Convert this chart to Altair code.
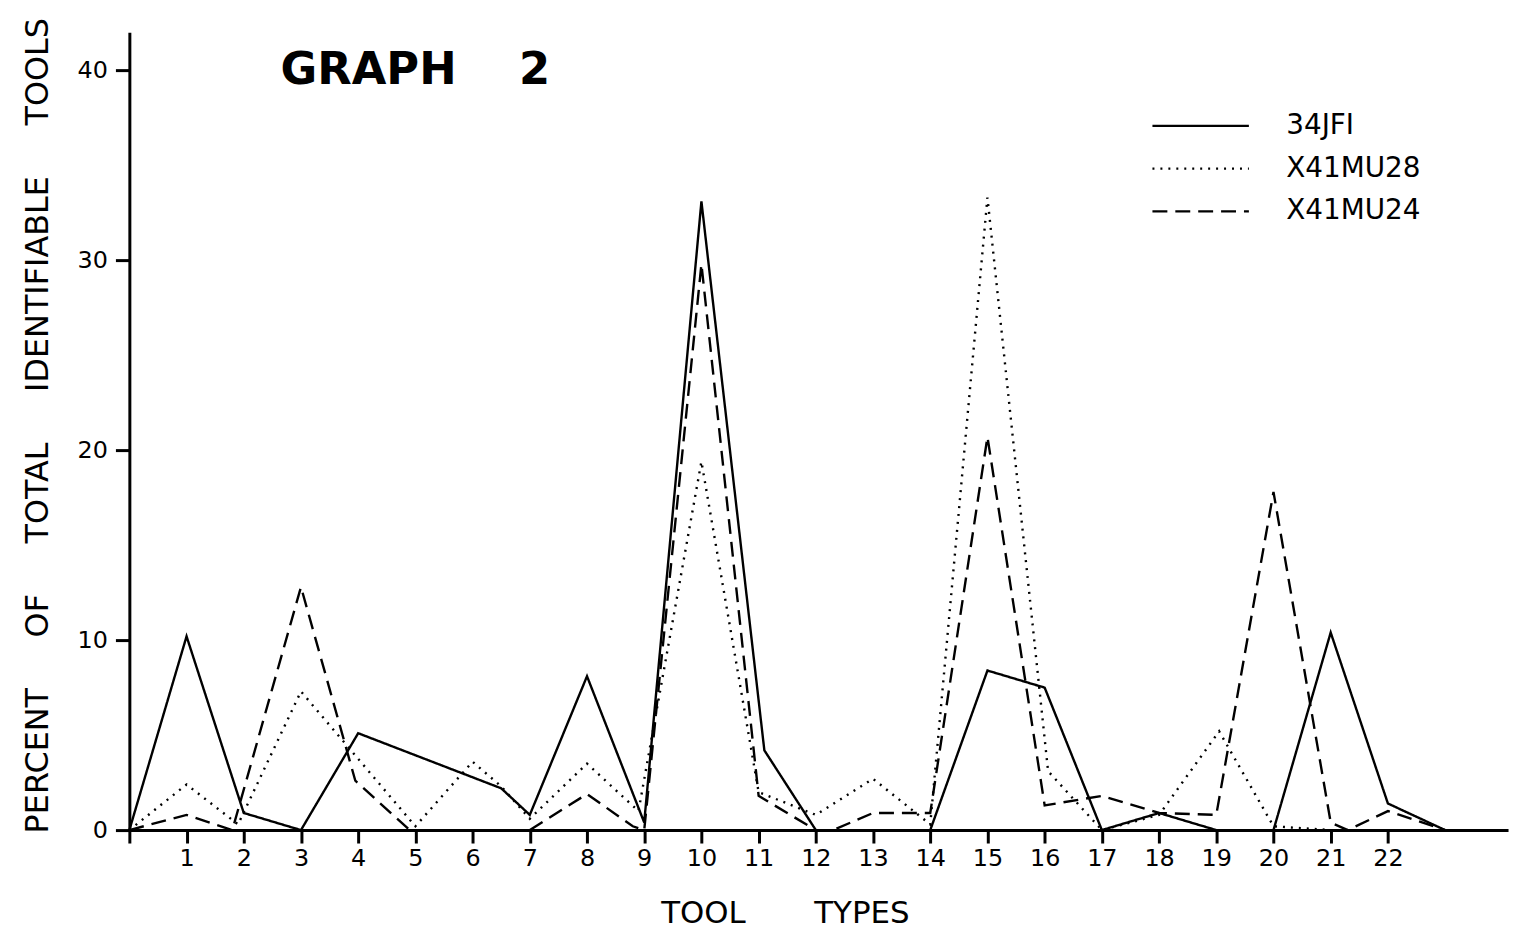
import altair as alt
import pandas as pd

# ---- data ----
series_names = ["34JFI", "X41MU28", "X41MU24"]

jfi_x = [0, 1, 2, 3, 4, 6.5, 7, 8, 9, 10, 11.1, 12, 13, 14, 15, 16, 17, 18, 19, 20, 21, 22, 23]
jfi_y = [0, 10.2, 0.9, 0, 5.1, 2.2, 0.8, 8.1, 0.4, 33.1, 4.2, 0, 0, 0, 8.4, 7.5, 0, 0.9, 0, 0, 10.4, 1.4, 0]

mu28_x = [0, 1, 1.9, 3, 5, 6, 6.5, 7, 8, 8.9, 10, 11, 12, 13, 14, 15, 16.06, 17, 18, 19.05, 20, 21, 22, 23]
mu28_y = [0, 2.4, 0.3, 7.3, 0.2, 3.6, 2.3, 0.6, 3.5, 1.0, 19.4, 2.0, 0.8, 2.7, 0.3, 33.3, 3.1, 0, 0.8, 5.2, 0.2, 0, 0, 0]

mu24_x = [0, 1, 1.8, 3, 3.95, 4.9, 7, 8, 8.8, 9, 10, 11, 12, 12.3, 13, 14, 15, 16, 17, 18, 19, 20, 21, 21.3, 22, 23]
mu24_y = [0, 0.8, 0, 12.8, 2.6, 0, 0, 1.9, 0.2, 0, 29.8, 1.8, 0, 0, 0.9, 0.9, 20.7, 1.3, 1.8, 0.9, 0.8, 17.8, 0.4, 0, 1.0, 0]

x_ticks = list(range(0, 23))
y_ticks = [0, 10, 20, 30, 40]

rows = []
for name, xs, ys in [(series_names[0], jfi_x, jfi_y),
                     (series_names[1], mu28_x, mu28_y),
                     (series_names[2], mu24_x, mu24_y)]:
    for i, (xv, yv) in enumerate(zip(xs, ys)):
        rows.append({"series": name, "tool": xv, "pct": yv, "order": i})
df = pd.DataFrame(rows)

FONT = "DejaVu Sans"
NB = "\u00a0"

chart = alt.Chart(df).mark_line(color="black", strokeWidth=2.4, strokeCap="butt").encode(
    x=alt.X("tool:Q",
            scale=alt.Scale(domain=[0, 24.1], nice=False, zero=False),
            axis=alt.Axis(values=x_ticks,
                          labelExpr="datum.value == 0 ? '' : datum.label",
                          grid=False, tickSize=13, tickWidth=3, domainWidth=3,
                          domainColor="black", tickColor="black",
                          labelFont=FONT, labelFontSize=24, labelColor="black",
                          labelPadding=4, labelFlush=False,
                          title="TOOL" + NB * 7 + "TYPES",
                          titleFont=FONT, titleFontSize=31, titleFontWeight="normal",
                          titleColor="black", titleX=659, titleY=93,
                          titleBaseline="alphabetic")),
    y=alt.Y("pct:Q",
            scale=alt.Scale(domain=[0, 42], nice=False),
            axis=alt.Axis(values=y_ticks, grid=False, tickSize=14, tickWidth=3,
                          domainWidth=3, domainColor="black", tickColor="black",
                          labelFont=FONT, labelFontSize=24, labelColor="black",
                          labelPadding=8, labelFlush=False,
                          title="PERCENT" + NB * 5 + "OF" + NB * 5 + "TOTAL" + NB * 5
                                + "IDENTIFIABLE" + NB * 5 + "TOOLS",
                          titleFont=FONT, titleFontSize=32, titleFontWeight="normal",
                          titleColor="black", titleX=-92, titleY=395,
                          titleBaseline="middle", titleAngle=-90)),
    strokeDash=alt.StrokeDash("series:N",
                              scale=alt.Scale(domain=series_names,
                                              range=[[1, 0], [2, 6], [15, 8]]),
                              legend=alt.Legend(title=None, orient="none",
                                                legendX=1063, legendY=80,
                                                symbolType="M-5,0H5", symbolSize=376,
                                                symbolStrokeWidth=2.4,
                                                symbolStrokeColor="black",
                                                labelFont=FONT, labelFontSize=28,
                                                labelColor="black", labelOffset=72,
                                                rowPadding=15)),
    order="order:Q",
).properties(
    width=1386,
    height=802,
    background="white",
    title=alt.TitleParams("GRAPH" + NB * 4 + "2", anchor="start", frame="group",
                          font=FONT, fontSize=45, fontWeight="bold", color="black",
                          dx=152, dy=112, baseline="alphabetic", offset=0),
    autosize=alt.AutoSizeParams(type="none"),
    padding={"left": 122, "top": 22, "right": 6, "bottom": 100},
).configure_view(stroke=None, strokeWidth=0)

chart.save("out.html", embed_options={"renderer": "svg", "actions": False})
